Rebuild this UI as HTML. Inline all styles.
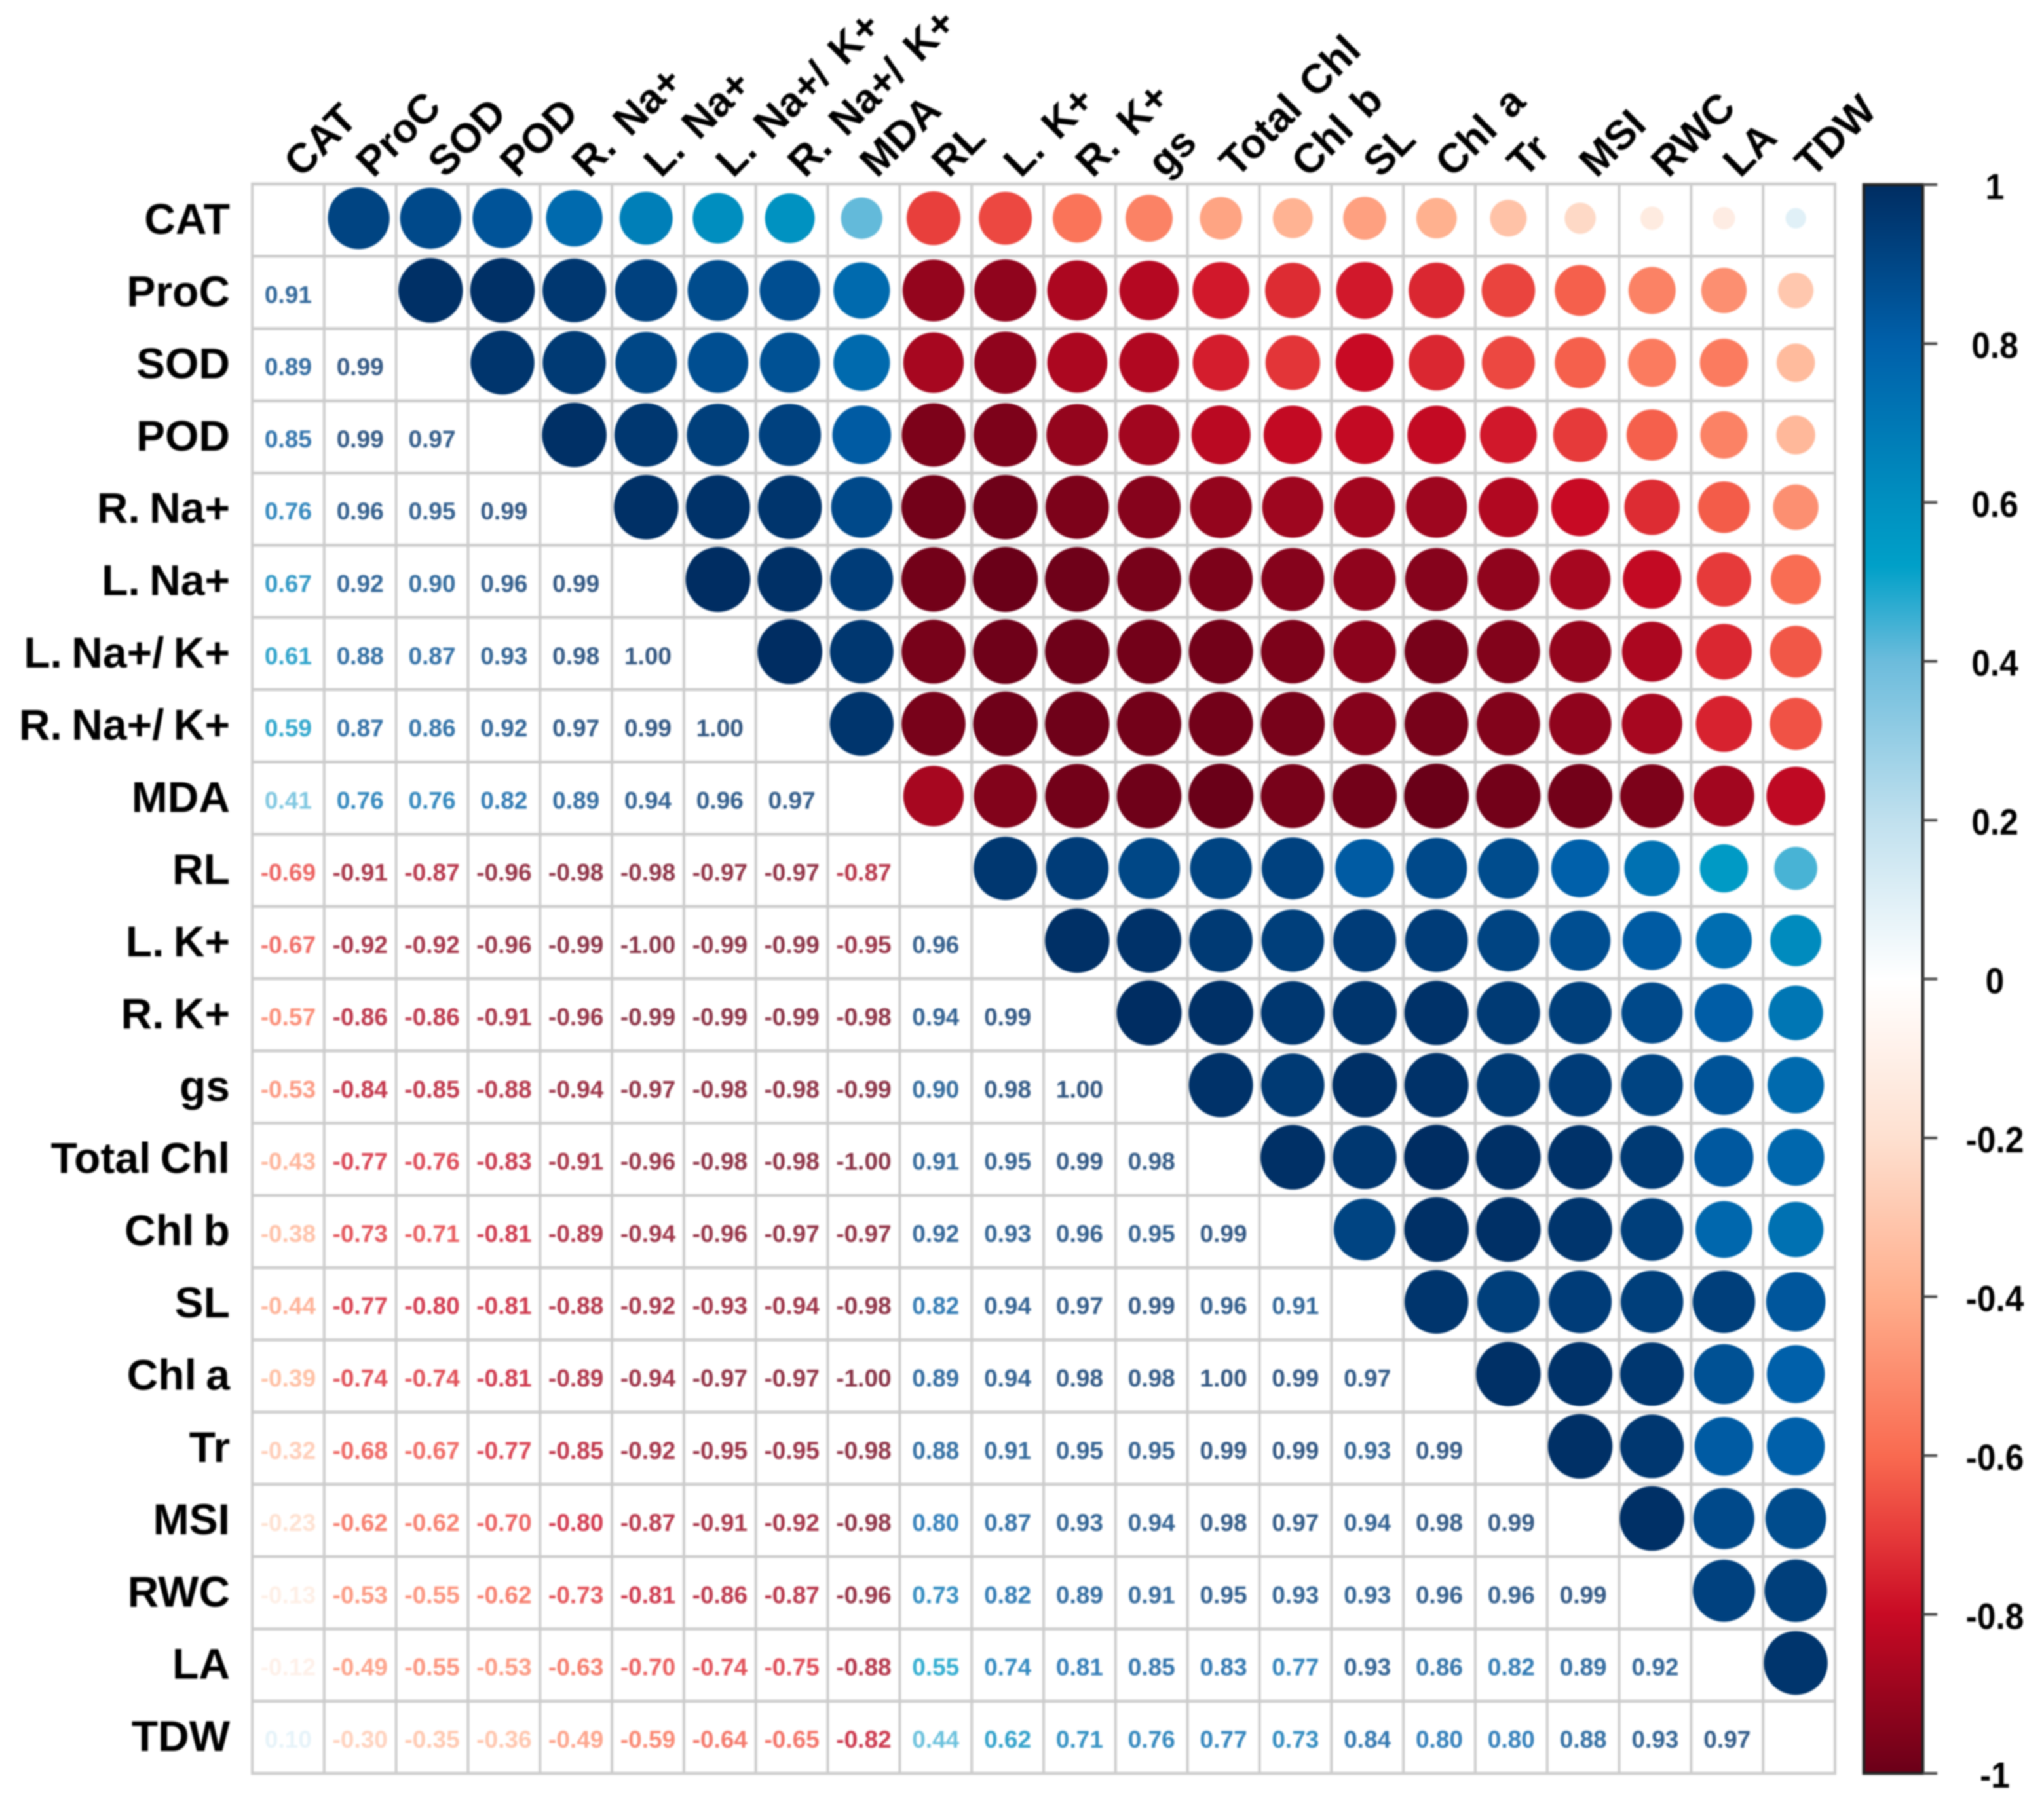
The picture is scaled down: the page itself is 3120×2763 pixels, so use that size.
<!DOCTYPE html>
<html lang="en">
<head>
<meta charset="utf-8">
<title>Correlation matrix</title>
<style>
  html, body { margin: 0; padding: 0; background: #fff; }
  #chart { display: block; width: 3120px; height: 2763px; filter: blur(1.2px); }
  text { font-family: "Liberation Sans", sans-serif; font-weight: bold; }
  #values text { font-weight: bold; fill-opacity: 0.8; }
  #row-labels text { word-spacing: -4px; }
  #col-labels text { word-spacing: 8px; }
</style>
</head>
<body>
<svg id="chart" xmlns="http://www.w3.org/2000/svg" width="3120" height="2763" viewBox="0 0 3120 2763">
  <defs>
    <linearGradient id="bar-gradient" x1="0" y1="0" x2="0" y2="1"></linearGradient>
  </defs>
  <rect x="0" y="0" width="3120" height="2763" fill="#fff"></rect>
  <g id="grid"></g>
  <g id="circles"></g>
  <g id="values"></g>
  <g id="row-labels"></g>
  <g id="col-labels"></g>
  <g id="legend"></g>
</svg>
<script>
const variables = ["CAT","ProC","SOD","POD","R. Na+","L. Na+","L. Na+/ K+","R. Na+/ K+","MDA","RL","L. K+","R. K+","gs","Total Chl","Chl b","SL","Chl a","Tr","MSI","RWC","LA","TDW"];

const rowProC = [0.91];
const rowSOD = [0.89,0.99];
const rowPOD = [0.85,0.99,0.97];
const rowRNa = [0.76,0.96,0.95,0.99];
const rowLNa = [0.67,0.92,0.90,0.96,0.99];
const rowLNaK = [0.61,0.88,0.87,0.93,0.98,1.00];
const rowRNaK = [0.59,0.87,0.86,0.92,0.97,0.99,1.00];
const rowMDA = [0.41,0.76,0.76,0.82,0.89,0.94,0.96,0.97];
const rowRL = [-0.69,-0.91,-0.87,-0.96,-0.98,-0.98,-0.97,-0.97,-0.87];
const rowLK = [-0.67,-0.92,-0.92,-0.96,-0.99,-1.00,-0.99,-0.99,-0.95,0.96];
const rowRK = [-0.57,-0.86,-0.86,-0.91,-0.96,-0.99,-0.99,-0.99,-0.98,0.94,0.99];
const rowGs = [-0.53,-0.84,-0.85,-0.88,-0.94,-0.97,-0.98,-0.98,-0.99,0.90,0.98,1.00];
const rowTotalChl = [-0.43,-0.77,-0.76,-0.83,-0.91,-0.96,-0.98,-0.98,-1.00,0.91,0.95,0.99,0.98];
const rowChlB = [-0.38,-0.73,-0.71,-0.81,-0.89,-0.94,-0.96,-0.97,-0.97,0.92,0.93,0.96,0.95,0.99];
const rowSL = [-0.44,-0.77,-0.80,-0.81,-0.88,-0.92,-0.93,-0.94,-0.98,0.82,0.94,0.97,0.99,0.96,0.91];
const rowChlA = [-0.39,-0.74,-0.74,-0.81,-0.89,-0.94,-0.97,-0.97,-1.00,0.89,0.94,0.98,0.98,1.00,0.99,0.97];
const rowTr = [-0.32,-0.68,-0.67,-0.77,-0.85,-0.92,-0.95,-0.95,-0.98,0.88,0.91,0.95,0.95,0.99,0.99,0.93,0.99];
const rowMSI = [-0.23,-0.62,-0.62,-0.70,-0.80,-0.87,-0.91,-0.92,-0.98,0.80,0.87,0.93,0.94,0.98,0.97,0.94,0.98,0.99];
const rowRWC = [-0.13,-0.53,-0.55,-0.62,-0.73,-0.81,-0.86,-0.87,-0.96,0.73,0.82,0.89,0.91,0.95,0.93,0.93,0.96,0.96,0.99];
const rowLA = [-0.12,-0.49,-0.55,-0.53,-0.63,-0.70,-0.74,-0.75,-0.88,0.55,0.74,0.81,0.85,0.83,0.77,0.93,0.86,0.82,0.89,0.92];
const rowTDW = [0.10,-0.30,-0.35,-0.36,-0.49,-0.59,-0.64,-0.65,-0.82,0.44,0.62,0.71,0.76,0.77,0.73,0.84,0.80,0.80,0.88,0.93,0.97];

const lowerRows = [[],rowProC,rowSOD,rowPOD,rowRNa,rowLNa,rowLNaK,rowRNaK,rowMDA,rowRL,rowLK,rowRK,rowGs,rowTotalChl,rowChlB,rowSL,rowChlA,rowTr,rowMSI,rowRWC,rowLA,rowTDW];

const legendTicks = [1,0.8,0.6,0.4,0.2,0,-0.2,-0.4,-0.6,-0.8,-1];
const paletteValues = [-1,-0.8,-0.7,-0.6,-0.4,-0.2,0,0.2,0.4,0.52,0.6,0.8,1];
const paletteColors = ["#6a0018","#c80a24","#e63a3a","#f96a50","#ffae8c","#fee0d0","#ffffff","#c0e0ee","#6cbcdc","#00a0c8","#0090c0","#0060aa","#002d62"];

const NS = "http://www.w3.org/2000/svg";
const gridLeft = 385, gridRight = 2801, gridTop = 281, gridBottom = 2707;
const barTop = 282, barBottom = 2707;
const n = variables.length;

function xPos(i) { return gridLeft + (gridRight - gridLeft) * i / n; }
function yPos(i) { return gridTop + (gridBottom - gridTop) * i / n; }
function barY(v) { return barTop + (1 - v) / 2 * (barBottom - barTop); }
function radius(v) { return 49.5 * Math.sqrt(Math.abs(v)); }
function hex(c) { return [1,3,5].map(function(k){ return parseInt(c.substr(k,2),16); }); }
function colorFor(v) {
  let i = 0;
  while (i < paletteValues.length - 2 && v > paletteValues[i + 1]) i++;
  const t = Math.max(0, Math.min(1, (v - paletteValues[i]) / (paletteValues[i + 1] - paletteValues[i])));
  const a = hex(paletteColors[i]), b = hex(paletteColors[i + 1]);
  return "rgb(" + a.map(function(x, k){ return Math.round(x + (b[k] - x) * t); }).join(",") + ")";
}
function slug(s) { return s.toLowerCase().replace(/\+/g, "-plus").replace(/[^a-z0-9]+/g, "-").replace(/-+$/, ""); }
function make(tag, attrs, parent) {
  const el = document.createElementNS(NS, tag);
  for (const k in attrs) el.setAttribute(k, attrs[k]);
  document.getElementById(parent).appendChild(el);
  return el;
}

/* grid */
for (let i = 0; i <= n; i++) {
  const v = make("line", {x1: xPos(i), x2: xPos(i), y1: gridTop - 2, y2: gridBottom + 2, stroke: "#cccccc", "stroke-width": 4}, "grid");
  
  
  const h = make("line", {x1: gridLeft - 2, x2: gridRight + 2, y1: yPos(i), y2: yPos(i), stroke: "#cccccc", "stroke-width": 4.5}, "grid");
  
  
}

/* circles and numbers */
lowerRows.forEach(function(row, r) {
  row.forEach(function(val, c) {
    const dot = make("circle", {cx: xPos(r + 0.5) - 2 - 3 * r / (n - 1), cy: yPos(c + 0.5) - 3, r: radius(val), fill: colorFor(val)}, "circles");
    
    
    const label = make("text", {x: xPos(c + 0.5), y: yPos(r + 0.5) + 16, "text-anchor": "middle", "font-size": 37, fill: colorFor(val)}, "values");
    label.textContent = val.toFixed(2);
    
    
  });
});

/* labels */
variables.forEach(function(name, i) {
  const rowLabel = make("text", {x: 351, y: yPos(i + 0.5) + 21, "text-anchor": "end", "font-size": 66, fill: "#000"}, "row-labels");
  rowLabel.textContent = name;
  
  
  const ax = xPos(i + 0.5) + 20, ay = 273;
  const colLabel = make("text", {x: ax, y: ay, transform: "rotate(-45 " + ax + " " + ay + ")", "font-size": 63, fill: "#000"}, "col-labels");
  colLabel.textContent = name;
  
  
});

/* legend */
const gradient = document.getElementById("bar-gradient");
paletteValues.forEach(function(v, i) {
  const stop = document.createElementNS(NS, "stop");
  stop.setAttribute("offset", (1 - v) / 2);
  stop.setAttribute("stop-color", paletteColors[i]);
  gradient.insertBefore(stop, gradient.firstChild);
});
const barFill = make("rect", {x: 2845, y: barTop, width: 90, height: barBottom - barTop, fill: "url(#bar-gradient)"}, "legend");


const barFrame = make("rect", {x: 2845, y: barTop, width: 90, height: barBottom - barTop, fill: "none", stroke: "#222", "stroke-width": 4.5}, "legend");


legendTicks.forEach(function(t) {
  const tick = make("line", {x1: 2935, x2: 2957, y1: barY(t), y2: barY(t), stroke: "#444", "stroke-width": 4}, "legend");
  
  
  const lx = 3045, ly = barY(t) + 22;
  const tl = make("text", {x: 0, y: 0, transform: "translate(" + lx + " " + ly + ") scale(0.92 1)", "text-anchor": "middle", "font-size": 56, fill: "#000"}, "legend");
  tl.textContent = String(t);
  
  
});
</script>
</body>
</html>
